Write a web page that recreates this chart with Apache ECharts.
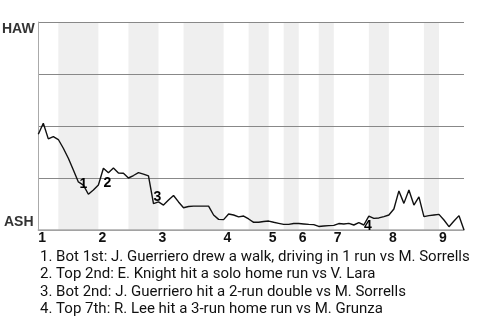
<!DOCTYPE html>
<html><head><meta charset="utf-8">
<script src="https://cdn.jsdelivr.net/npm/echarts@6/dist/echarts.min.js"></script>
<style>html,body{margin:0;padding:0;background:#fff}#c{width:480px;height:320px}</style>
</head><body><div id="c"></div>
<script>
// HAW win probability (%) after each plate appearance
const winProb = [46.0,51.3,43.8,44.9,43.5,39.3,34.5,28.8,23.1,21.6,17.2,19.2,21.6,29.7,27.5,29.8,27.4,27.3,25.0,26.2,
27.6,26.9,26.0,12.7,13.5,12.0,14.4,16.6,13.5,10.7,11.3,11.5,11.5,11.5,11.5,7.2,5.1,5.0,7.7,7.2,
6.3,6.7,5.3,3.7,3.7,4.1,4.3,3.7,3.2,2.7,2.7,3.1,3.1,2.9,2.7,2.6,1.7,1.9,2.1,2.2,
3.1,2.9,3.2,2.4,3.5,2.4,6.7,5.6,5.8,6.4,7.2,10.1,18.8,12.8,19.2,12.0,15.9,6.4,6.9,7.2,
7.5,4.8,1.6,4.3,6.9,0];
const inningLabels = ['1','2','3','4','5','6','7','8','9'];
const inningStarts = [0,12,24,37,46,52,59,70,80];
const bottomHalfStarts = [4,18,29,42,49,56,66,77];
const bottomHalfEnds = [12,24,37,46,52,59,70,80];
const eventIdx = [9,13,23,65];
const eventNums = ['1','2','3','4'];
const eventTexts = [
 '1. Bot 1st: J. Guerriero drew a walk, driving in 1 run vs M. Sorrells',
 '2. Top 2nd: E. Knight hit a solo home run vs V. Lara',
 '3. Bot 2nd: J. Guerriero hit a 2-run double vs M. Sorrells',
 '4. Top 7th: R. Lee hit a 3-run home run vs M. Grunza'
];
const teamTop = 'HAW', teamBottom = 'ASH';

const labelOffsets = [[0,-1],[4,15],[4,-6],[4,1]];
const chart = echarts.init(document.getElementById('c'), null, {renderer:'canvas'});
const lineData = winProb.map((v,i)=>[i,v]);
const bands = bottomHalfStarts.map((s,i)=>[{xAxis:s},{xAxis:bottomHalfEnds[i]}]);
const eventData = eventIdx.map((idx,i)=>({
  value:[idx, winProb[idx]],
  label:{formatter:eventNums[i], offset:labelOffsets[i]}
}));
const boldFont = '"Liberation Sans", Arial, sans-serif';
chart.setOption({
  animation:false,
  grid:{left:38.3, right:16, top:22, bottom:90, containLabel:false},
  xAxis:{type:'value', min:0, max:winProb.length-1, z:2,
    axisLine:{show:true, onZero:false, lineStyle:{color:'#aaa', width:1.5}},
    axisTick:{show:false},
    splitLine:{show:false},
    axisLabel:{customValues:inningStarts, align:'left', margin:1,
      formatter:v=>inningLabels[inningStarts.indexOf(v)],
      fontFamily:boldFont, fontWeight:'bold', fontSize:14, color:'#111'}
  },
  yAxis:{type:'value', min:0, max:100, interval:25, z:2,
    axisLine:{show:true, lineStyle:{color:'#aaa', width:1}},
    axisTick:{show:false},
    axisLabel:{show:false},
    splitLine:{show:true, lineStyle:{color:'#888', width:1}}
  },
  series:[
    {type:'line', data:[], z:1, silent:true,
     markArea:{silent:true, itemStyle:{color:'#efefef', opacity:1, borderWidth:0}, data:bands}
    },
    {type:'line', data:lineData, showSymbol:false, symbol:'none',
     lineStyle:{color:'#111', width:1.4}, z:3
    },
    {type:'scatter', data:eventData, symbolSize:1, itemStyle:{color:'rgba(0,0,0,0)'}, z:4,
     label:{show:true, position:'inside', fontFamily:boldFont, fontWeight:'bold', fontSize:14,
       color:'#000', opacity:1, textBorderWidth:0}
    }
  ],
  graphic:[
    {type:'text', left:2, top:22, style:{text:teamTop, font:'bold 14px '+boldFont, fill:'#333'}},
    {type:'text', left:4, top:215, style:{text:teamBottom, font:'bold 14px '+boldFont, fill:'#333'}}
  ].concat(eventTexts.map((t,i)=>({type:'text', left:40, top:249.5+i*17.5,
     style:{text:t, font:'15px Roboto, sans-serif', fill:'#111'}})))
});
</script></body></html>
